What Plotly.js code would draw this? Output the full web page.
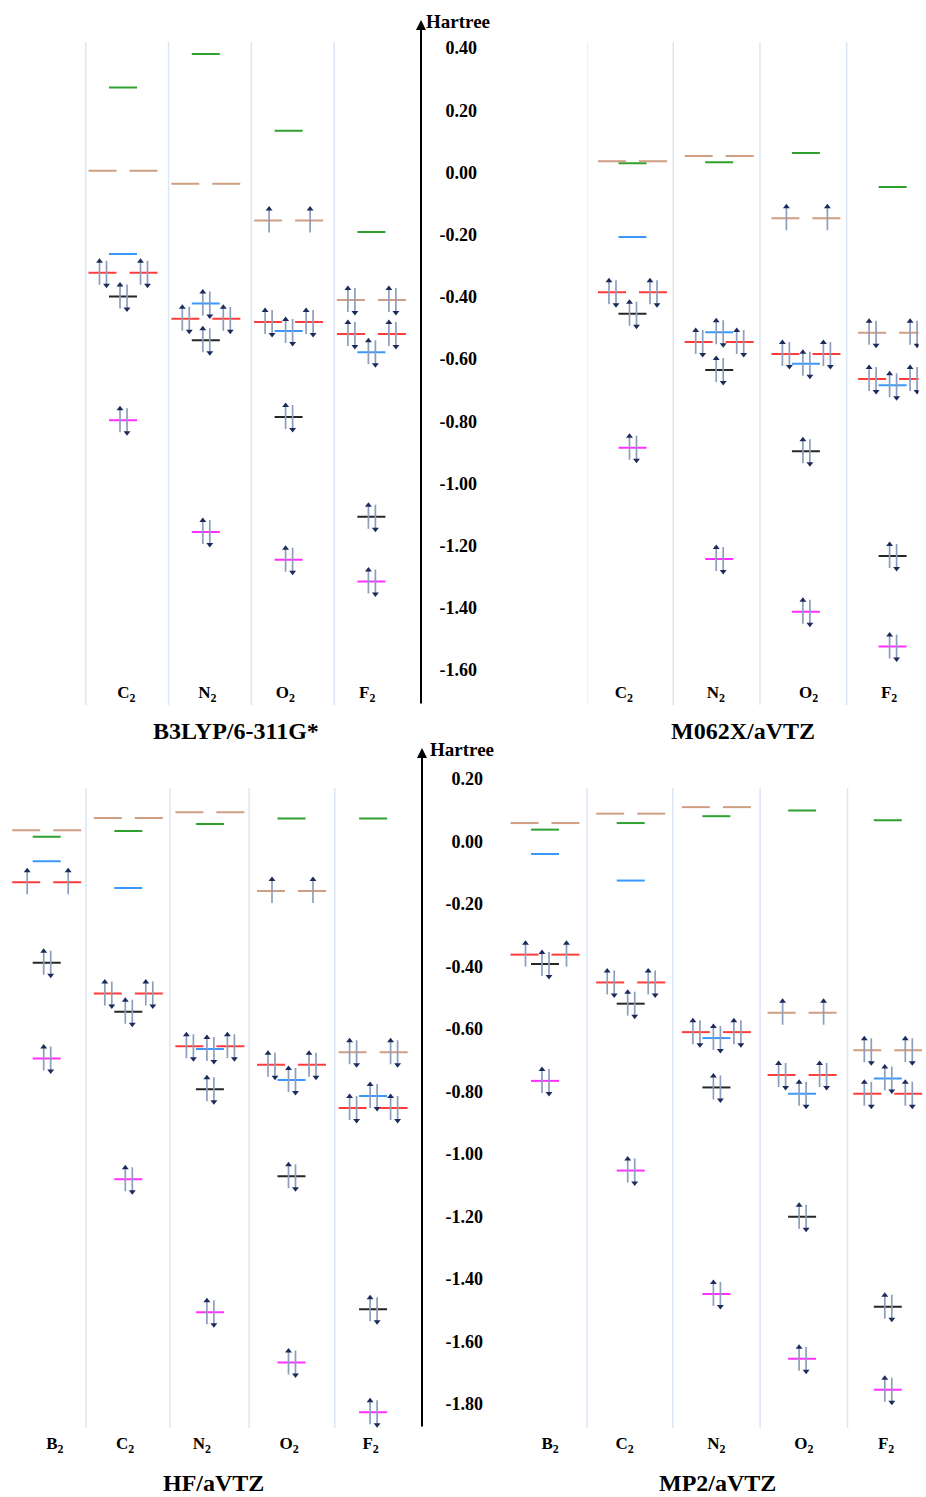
<!DOCTYPE html>
<html>
<head>
<meta charset="utf-8">
<script src="https://cdn.plot.ly/plotly-3.0.1.min.js"></script>
<style>html,body{margin:0;padding:0;background:#fff;}#chart{width:926px;height:1497px;}</style>
</head>
<body>
<div id="chart"></div>
<script>
// ---------- DATA (Hartree) ----------
const methods = ['B3LYP/6-311G*', 'M062X/aVTZ', 'HF/aVTZ', 'MP2/aVTZ'];
const molsTop = ['C<sub>2</sub>', 'N<sub>2</sub>', 'O<sub>2</sub>', 'F<sub>2</sub>'];
const molsBottom = ['B<sub>2</sub>', 'C<sub>2</sub>', 'N<sub>2</sub>', 'O<sub>2</sub>', 'F<sub>2</sub>'];
const ticksTop = [0.40, 0.20, 0.00, -0.20, -0.40, -0.60, -0.80, -1.00, -1.20, -1.40, -1.60];
const tickTextTop = ['0.40', '0.20', '0.00', '-0.20', '-0.40', '-0.60', '-0.80', '-1.00', '-1.20', '-1.40', '-1.60'];
const ticksBottom = [0.20, 0.00, -0.20, -0.40, -0.60, -0.80, -1.00, -1.20, -1.40, -1.60, -1.80];
const tickTextBottom = ['0.20', '0.00', '-0.20', '-0.40', '-0.60', '-0.80', '-1.00', '-1.20', '-1.40', '-1.60', '-1.80'];

// B3LYP/6-311G*  (C2, N2, O2, F2)
const b3lyp_green   = [0.273, 0.381, 0.134, -0.191];
const b3lyp_tan     = [0.006, -0.036, -0.154, -0.410];
const b3lyp_blue    = [-0.262, -0.421, -0.510, -0.578];
const b3lyp_red     = [-0.322, -0.470, -0.481, -0.519];
const b3lyp_black   = [-0.399, -0.539, -0.786, -1.107];
const b3lyp_magenta = [-0.797, -1.156, -1.245, -1.315];

// M062X/aVTZ  (C2, N2, O2, F2)
const m062x_green   = [0.030, 0.033, 0.063, -0.047];
const m062x_tan     = [0.036, 0.053, -0.147, -0.515];
const m062x_blue    = [-0.207, -0.514, -0.615, -0.684];
const m062x_red     = [-0.385, -0.545, -0.584, -0.664];
const m062x_black   = [-0.454, -0.635, -0.896, -1.233];
const m062x_magenta = [-0.885, -1.243, -1.412, -1.524];

// HF/aVTZ  (B2, C2, N2, O2, F2)
const hf_green   = [0.015, 0.034, 0.056, 0.074, 0.074];
const hf_tan     = [0.036, 0.075, 0.094, -0.158, -0.674];
const hf_blue    = [-0.063, -0.149, -0.664, -0.763, -0.814];
const hf_red     = [-0.130, -0.486, -0.655, -0.714, -0.853];
const hf_black   = [-0.388, -0.545, -0.793, -1.071, -1.497];
const hf_magenta = [-0.694, -1.081, -1.506, -1.667, -1.826];

// MP2/aVTZ  (B2, C2, N2, O2, F2)
const mp2_green   = [0.038, 0.059, 0.081, 0.099, 0.068];
const mp2_tan     = [0.059, 0.089, 0.110, -0.548, -0.668];
const mp2_blue    = [-0.040, -0.125, -0.629, -0.807, -0.758];
const mp2_red     = [-0.362, -0.451, -0.610, -0.747, -0.807];
const mp2_black   = [-0.392, -0.519, -0.787, -1.201, -1.489];
const mp2_magenta = [-0.766, -1.053, -1.448, -1.655, -1.754];

// electrons per orbital
const occTop_green   = [0, 0, 0, 0];
const occTop_tan     = [0, 0, 1, 2];
const occTop_blue    = [0, 2, 2, 2];
const occTop_red     = [2, 2, 2, 2];
const occTop_black   = [2, 2, 2, 2];
const occTop_magenta = [2, 2, 2, 2];
const occBot_green   = [0, 0, 0, 0, 0];
const occBot_tan     = [0, 0, 0, 1, 2];
const occBot_blue    = [0, 0, 2, 2, 2];
const occBot_red     = [1, 2, 2, 2, 2];
const occBot_black   = [2, 2, 2, 2, 2];
const occBot_magenta = [2, 2, 2, 2, 2];

// ---------- STYLE ----------
const W = 926, H = 1497;
const FONT = '"Liberation Serif", "Times New Roman", serif';
const COL = {green: '#2fa12f', tan: '#cf9f83', blue: '#3a98fb', red: '#ff3c3c', black: '#262626', magenta: '#ff30ff'};
const SHAFT = '#8d9ebd', HEAD = '#1b2b5b', SEP = '#dbe6f4';
const fx = px => px / W;
const fy = px => 1 - px / H;

// y scales
const topY = {pxTop: 20, pxBot: 705, zeroPx: 172.5, ppu: 311};
const botY = {pxTop: 748, pxBot: 1430, zeroPx: 841.5, ppu: 312.5};
function yRange(s) { return [(s.zeroPx - s.pxBot) / s.ppu, (s.zeroPx - s.pxTop) / s.ppu]; }

// panels (layout geometry only)
const panels = [
  {xa: 'x', ya: 'y', ys: topY, c0: 123, sp: 82.8, r: [-0.5, 3.5], seps: [-0.45, 0.55, 1.55, 2.55], sepY: [42, 705], labPos: 680,
   labShift: [0.04, 0.02, -0.04, -0.05],
   mols: molsTop, title: methods[0], titleX: 236, titleY: 731,
   series: [['green', b3lyp_green, occTop_green, 1], ['tan', b3lyp_tan, occTop_tan, 2], ['blue', b3lyp_blue, occTop_blue, 1],
            ['red', b3lyp_red, occTop_red, 2], ['black', b3lyp_black, occTop_black, 1], ['magenta', b3lyp_magenta, occTop_magenta, 1]]},
  {xa: 'x2', ya: 'y', ys: topY, c0: 632.5, sp: 86.7, r: [-0.52, 3.3], seps: [-0.52, 0.47, 1.47, 2.47], sepY: [42, 705], labPos: 680,
   labShift: [-0.1, -0.04, 0.03, -0.04],
   mols: molsTop, title: methods[1], titleX: 743, titleY: 731,
   series: [['green', m062x_green, occTop_green, 1], ['tan', m062x_tan, occTop_tan, 2], ['blue', m062x_blue, occTop_blue, 1],
            ['red', m062x_red, occTop_red, 2], ['black', m062x_black, occTop_black, 1], ['magenta', m062x_magenta, occTop_magenta, 1]]},
  {xa: 'x3', ya: 'y2', ys: botY, c0: 46.7, sp: 81.6, r: [-0.55, 4.5], seps: [0.48, 1.51, 2.48, 3.53], sepY: [788, 1428], labPos: 1431,
   labShift: [0.1, -0.04, -0.1, -0.03, -0.03],
   mols: molsBottom, title: methods[2], titleX: 213, titleY: 1483,
   series: [['green', hf_green, occBot_green, 1], ['tan', hf_tan, occBot_tan, 2], ['blue', hf_blue, occBot_blue, 1],
            ['red', hf_red, occBot_red, 2], ['black', hf_black, occBot_black, 1], ['magenta', hf_magenta, occBot_magenta, 1]]},
  {xa: 'x4', ya: 'y2', ys: botY, c0: 545, sp: 85.7, r: [-0.5, 4.4], seps: [0.49, 1.49, 2.51, 3.53], sepY: [788, 1428], labPos: 1431,
   labShift: [0.06, -0.07, 0.0, 0.02, -0.02],
   mols: molsBottom, title: methods[3], titleX: 717, titleY: 1483,
   series: [['green', mp2_green, occBot_green, 1], ['tan', mp2_tan, occBot_tan, 2], ['blue', mp2_blue, occBot_blue, 1],
            ['red', mp2_red, occBot_red, 2], ['black', mp2_black, occBot_black, 1], ['magenta', mp2_magenta, occBot_magenta, 1]]}
];

const traces = [];
const shapes = [];
const annotations = [];
const layout = {
  width: W, height: H, margin: {l: 0, r: 0, t: 0, b: 0}, paper_bgcolor: '#fff', plot_bgcolor: 'rgba(0,0,0,0)',
  showlegend: false, hovermode: false, font: {family: FONT, color: '#000'}
};

panels.forEach((p, pi) => {
  const dx = 1 / p.sp, dy = 1 / p.ys.ppu;
  const hw = 14 * dx, po = 20.5 * dx;
  const shaftX = [], shaftY = [], upX = [], upY = [], dnX = [], dnY = [];
  p.series.forEach(([c, vals, occ, deg]) => {
    const lx = [], ly = [];
    vals.forEach((e, i) => {
      const centers = deg === 2 ? [i - po, i + po] : [i];
      centers.forEach(xc => {
        lx.push(xc - hw, xc + hw, null); ly.push(e, e, null);
        const n = occ[i];
        if (n >= 1) {
          const ux = n === 2 ? xc - 3 * dx : xc + 1 * dx;
          const tip = e + 14 * dy;
          shaftX.push(ux, ux, null); shaftY.push(e - 12 * dy, tip - 3 * dy, null);
          upX.push(ux); upY.push(tip - 2.5 * dy);
        }
        if (n === 2) {
          const dxp = xc + 4 * dx;
          const tip = e - 15 * dy;
          shaftX.push(dxp, dxp, null); shaftY.push(e + 12 * dy, tip + 3 * dy, null);
          dnX.push(dxp); dnY.push(tip + 2.5 * dy);
        }
      });
    });
    traces.push({type: 'scatter', mode: 'lines', x: lx, y: ly, xaxis: p.xa, yaxis: p.ya,
      line: {color: COL[c], width: 2}, hoverinfo: 'skip'});
  });
  traces.push({type: 'scatter', mode: 'lines', x: shaftX, y: shaftY, xaxis: p.xa, yaxis: p.ya,
    line: {color: SHAFT, width: 1.7}, hoverinfo: 'skip'});
  traces.push({type: 'scatter', mode: 'markers', x: upX, y: upY, xaxis: p.xa, yaxis: p.ya,
    marker: {symbol: 'triangle-up', size: 6, color: HEAD, line: {width: 0}}, hoverinfo: 'skip'});
  traces.push({type: 'scatter', mode: 'markers', x: dnX, y: dnY, xaxis: p.xa, yaxis: p.ya,
    marker: {symbol: 'triangle-down', size: 6, color: HEAD, line: {width: 0}}, hoverinfo: 'skip'});

  const key = 'xaxis' + (pi === 0 ? '' : pi + 1);
  layout[key] = {
    domain: [fx(p.c0 + p.sp * p.r[0]), fx(p.c0 + p.sp * p.r[1])], range: p.r, anchor: 'free', position: fy(p.labPos),
    showgrid: false, zeroline: false, showline: false, ticks: '', fixedrange: true,
    tickmode: 'array', tickvals: p.mols.map((m, i) => i + p.labShift[i]), ticktext: p.mols,
    tickfont: {family: FONT, size: 17, weight: 'bold', color: '#000'}
  };
  p.seps.forEach(s => shapes.push({type: 'line', xref: p.xa, yref: 'paper', x0: s, x1: s, y0: fy(p.sepY[0]), y1: fy(p.sepY[1]),
    line: {color: SEP, width: 1.5}, layer: 'below'}));
  annotations.push({xref: 'paper', yref: 'paper', x: fx(p.titleX), y: fy(p.titleY), text: p.title, showarrow: false,
    xanchor: 'center', yanchor: 'middle', font: {family: FONT, size: 24, weight: 'bold', color: '#000'}});
});

layout.yaxis = {domain: [fy(topY.pxBot), fy(topY.pxTop)], range: yRange(topY), anchor: 'free', position: fx(477), side: 'left',
  showgrid: false, zeroline: false, showline: false, ticks: '', tickmode: 'array', tickvals: ticksTop, ticktext: tickTextTop,
  tickfont: {family: FONT, size: 18, weight: 'bold', color: '#000'}, fixedrange: true};
layout.yaxis2 = {domain: [fy(botY.pxBot), fy(botY.pxTop)], range: yRange(botY), anchor: 'free', position: fx(483), side: 'left',
  showgrid: false, zeroline: false, showline: false, ticks: '', tickmode: 'array', tickvals: ticksBottom, ticktext: tickTextBottom,
  tickfont: {family: FONT, size: 18, weight: 'bold', color: '#000'}, fixedrange: true};

// energy axes with arrowheads
annotations.push({xref: 'paper', yref: 'paper', x: fx(421), y: fy(20), ax: 0, ay: 685, axref: 'pixel', ayref: 'pixel', text: '',
  showarrow: true, arrowhead: 2, arrowsize: 1, arrowwidth: 2, arrowcolor: '#000'});
annotations.push({xref: 'paper', yref: 'paper', x: fx(422), y: fy(748), ax: 0, ay: 680, axref: 'pixel', ayref: 'pixel', text: '',
  showarrow: true, arrowhead: 2, arrowsize: 1, arrowwidth: 2, arrowcolor: '#000'});
annotations.push({xref: 'paper', yref: 'paper', x: fx(424), y: fy(21), text: 'Hartree', showarrow: false, xanchor: 'left', yanchor: 'middle',
  font: {family: FONT, size: 19, weight: 'bold', color: '#000'}});
annotations.push({xref: 'paper', yref: 'paper', x: fx(428), y: fy(749), text: 'Hartree', showarrow: false, xanchor: 'left', yanchor: 'middle',
  font: {family: FONT, size: 19, weight: 'bold', color: '#000'}});

layout.shapes = shapes;
layout.annotations = annotations;

Plotly.newPlot('chart', traces, layout, {staticPlot: true, displayModeBar: false});
</script>
</body>
</html>
